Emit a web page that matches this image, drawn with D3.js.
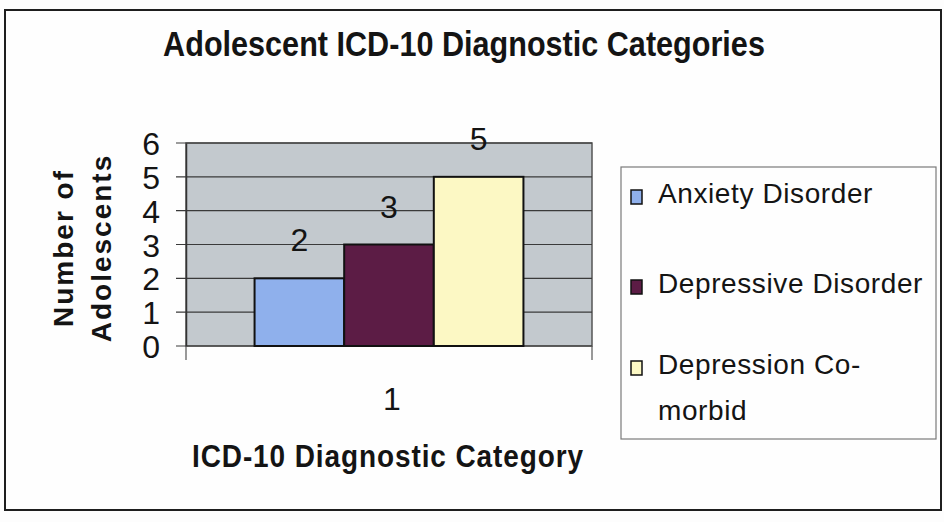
<!DOCTYPE html>
<html>
<head>
<meta charset="utf-8">
<script src="https://cdn.jsdelivr.net/npm/d3@7"></script>
<style>
  html, body { margin: 0; padding: 0; background: #fdfdfd; }
  #chart { width: 944px; height: 522px; }
  text { font-family: "Liberation Sans", Arial, sans-serif; fill: #141414; }
</style>
</head>
<body>
<div id="chart"></div>
<script>
(function () {
    "use strict";

    /* ---- data ---- */
    const categories = ["1"];
    const seriesNames = ["Anxiety Disorder", "Depressive Disorder", "Depression Co-morbid"];
    const seriesValues = [2, 3, 5];
    const legendLines = [["Anxiety Disorder"], ["Depressive Disorder"], ["Depression Co-", "morbid"]];
    const yTicks = [0, 1, 2, 3, 4, 5, 6];

    const WIDTH = 944;
    const HEIGHT = 522;
    const SERIES_COLORS = ["#8fb0ec", "#5c1c45", "#fcf8c4"];
    const PLOT_BG = "#c3c9ce";
    const GRID_COLOR = "#3a3a3a";

    /* plot area */
    const plot = { left: 186, right: 592, top: 143, bottom: 346 };

    var svg = d3.select("#chart").append("svg")
        .attr("width", WIDTH)
        .attr("height", HEIGHT);

    /* outer frame */
    svg.append("rect")
        .attr("x", 5).attr("y", 10)
        .attr("width", 936).attr("height", 500)
        .attr("fill", "#fefefe")
        .attr("stroke", "#1e1e1e")
        .attr("stroke-width", 2);

    /* title (the scan is a bit stretched vertically) */
    svg.append("text")
        .attr("transform", "translate(464,56) scale(1.02,1.18)")
        .attr("text-anchor", "middle")
        .style("font-size", "30px")
        .style("font-weight", "bold")
        .text("Adolescent ICD-10 Diagnostic Categories");

    /* scales */
    var x0 = d3.scaleBand()
        .domain(categories)
        .range([plot.left, plot.right])
        .paddingInner(0)
        .paddingOuter(0.255);

    var x1 = d3.scaleBand()
        .domain(seriesNames)
        .range([0, x0.bandwidth()]);

    var y = d3.scaleLinear()
        .domain([0, 6])
        .range([plot.bottom, plot.top]);

    /* plot background */
    svg.append("rect")
        .attr("x", plot.left).attr("y", plot.top)
        .attr("width", plot.right - plot.left)
        .attr("height", plot.bottom - plot.top)
        .attr("fill", PLOT_BG)
        .attr("stroke", "#555")
        .attr("stroke-width", 1.5);

    /* gridlines + y ticks */
    svg.append("g")
        .selectAll("line")
        .data(yTicks)
        .enter().append("line")
        .attr("x1", plot.left - 10)
        .attr("x2", plot.right)
        .attr("y1", function (d) { return y(d); })
        .attr("y2", function (d) { return y(d); })
        .attr("stroke", GRID_COLOR)
        .attr("stroke-width", 1.2);

    var yAxis = d3.axisLeft(y)
        .tickValues(yTicks)
        .tickSize(0)
        .tickPadding(26)
        .tickFormat(d3.format("d"));

    var gy = svg.append("g")
        .attr("transform", "translate(" + plot.left + ",0)")
        .call(yAxis);
    gy.select(".domain").attr("stroke", "#333").attr("stroke-width", 1.5);
    gy.selectAll("text")
        .attr("dy", "0.36em")
        .style("font-size", "32px")
        .style("font-family", "'Liberation Sans', Arial, sans-serif")
        .attr("fill", "#141414");

    /* bars */
    var groups = svg.append("g")
        .selectAll("g")
        .data(categories)
        .enter().append("g")
        .attr("transform", function (d) { return "translate(" + x0(d) + ",0)"; });

    groups.selectAll("rect")
        .data(function () {
            return seriesNames.map(function (s, i) { return { name: s, value: seriesValues[i], i: i }; });
        })
        .enter().append("rect")
        .attr("x", function (d) { return x1(d.name); })
        .attr("y", function (d) { return y(d.value); })
        .attr("width", x1.bandwidth())
        .attr("height", function (d) { return y(0) - y(d.value); })
        .attr("fill", function (d) { return SERIES_COLORS[d.i]; })
        .attr("stroke", "#111")
        .attr("stroke-width", 2);

    /* value labels */
    groups.selectAll("text.val")
        .data(function () {
            return seriesNames.map(function (s, i) { return { name: s, value: seriesValues[i] }; });
        })
        .enter().append("text")
        .attr("class", "val")
        .attr("x", function (d) { return x1(d.name) + x1.bandwidth() / 2; })
        .attr("y", function (d) { return y(d.value) - 27; })
        .attr("text-anchor", "middle")
        .style("font-size", "32px")
        .text(function (d) { return d.value; });

    /* x axis */
    var xAxis = d3.axisBottom(x0).tickSize(0).tickPadding(41);
    var gx = svg.append("g")
        .attr("transform", "translate(3," + plot.bottom + ")")
        .call(xAxis);
    gx.select(".domain").remove();
    gx.selectAll("text")
        .style("font-size", "32px")
        .style("font-family", "'Liberation Sans', Arial, sans-serif")
        .attr("fill", "#141414");

    /* category boundary ticks */
    svg.append("g")
        .selectAll("line")
        .data([plot.left, plot.right])
        .enter().append("line")
        .attr("x1", function (d) { return d; })
        .attr("x2", function (d) { return d; })
        .attr("y1", plot.bottom)
        .attr("y2", plot.bottom + 14)
        .attr("stroke", "#555")
        .attr("stroke-width", 1.2);

    /* axis titles */
    svg.append("text")
        .attr("transform", "translate(388,467) scale(1,1.1)")
        .attr("text-anchor", "middle")
        .style("font-size", "28px")
        .style("font-weight", "bold")
        .style("letter-spacing", "0.9px")
        .text("ICD-10 Diagnostic Category");

    var yTitle = svg.append("text")
        .attr("transform", "translate(73,248) rotate(-90)")
        .attr("text-anchor", "middle")
        .style("font-size", "28px")
        .style("font-weight", "bold")
        .style("letter-spacing", "2px");
    yTitle.append("tspan").attr("x", 0).attr("dy", 0).text("Number of");
    yTitle.append("tspan").attr("x", 0).attr("dy", 38).text("Adolescents");

    /* legend */
    var legend = svg.append("g");
    legend.append("rect")
        .attr("x", 621).attr("y", 167)
        .attr("width", 315).attr("height", 272)
        .attr("fill", "#fefefe")
        .attr("stroke", "#7a7a7a")
        .attr("stroke-width", 1.2);

    var legendBaselines = [203, 293, 374];
    var items = legend.selectAll("g.item")
        .data(seriesNames)
        .enter().append("g")
        .attr("class", "item")
        .attr("transform", function (d, i) { return "translate(631," + legendBaselines[i] + ")"; });

    items.append("rect")
        .attr("x", 0).attr("y", -13)
        .attr("width", 11).attr("height", 14)
        .attr("fill", function (d, i) { return SERIES_COLORS[i]; })
        .attr("stroke", "#111")
        .attr("stroke-width", 1.5);

    items.append("text")
        .attr("x", 27).attr("y", 0)
        .style("font-size", "28px")
        .style("letter-spacing", "0.6px")
        .each(function (d, i) {
            var t = d3.select(this);
            legendLines[i].forEach(function (line, j) {
                t.append("tspan").attr("x", 27).attr("dy", j === 0 ? 0 : 46).text(line);
            });
        });
})();
</script>
</body>
</html>
